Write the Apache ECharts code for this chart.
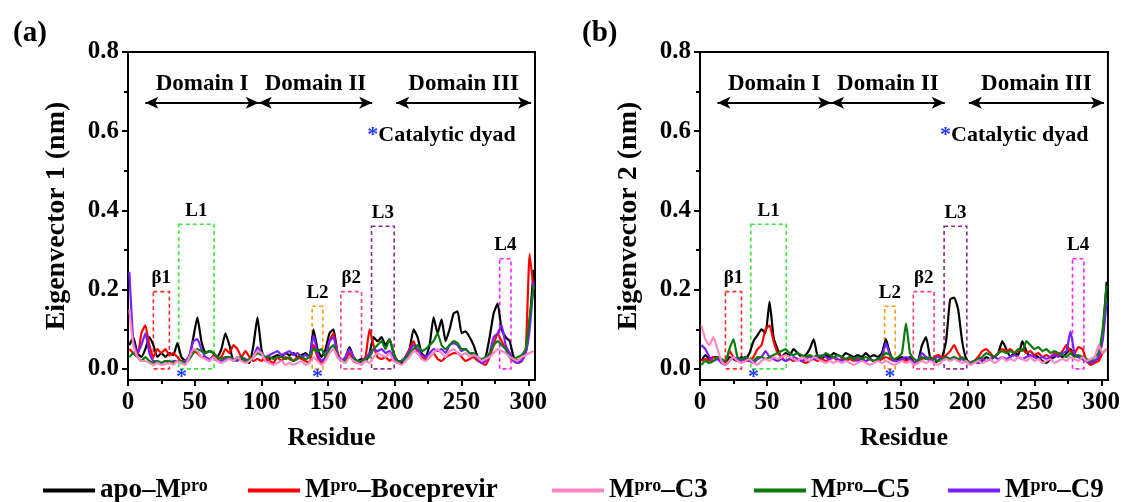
<!DOCTYPE html>
<html>
<head>
<meta charset="utf-8">
<script src="https://cdn.jsdelivr.net/npm/echarts@6/dist/echarts.min.js"></script>
<style>
  html, body { margin: 0; background: #fff; }
  #chart { width: 1123px; height: 502px; }
</style>
</head>
<body>
<div id="chart"></div>
<script>
// residue numbers sampled along the chain
const residues = [1,4,7,10,13,16,19,22,25,28,31,34,37,40,43,46,49,52,55,58,61,64,67,70,73,76,79,82,85,88,91,94,97,100,103,106,109,112,115,118,121,124,127,130,133,136,139,142,145,148,151,154,157,160,163,166,169,172,175,178,181,184,187,190,193,196,199,202,205,208,211,214,217,220,223,226,229,232,235,238,241,244,247,250,253,256,259,262,265,268,271,274,277,280,283,286,289,292,295,298,301,304];

// (a) eigenvector 1
const apoA = [0.06,0.08,0.04,0.03,0.05,0.08,0.06,0.03,0.04,0.03, 0.04,0.035,0.065,0.03,0.02,0.03,0.08,0.13,0.07,0.04, 0.045,0.04,0.03,0.05,0.09,0.06,0.02,0.03,0.025,0.02, 0.015,0.06,0.13,0.05,0.02,0.025,0.03,0.035,0.03,0.04, 0.035,0.04,0.03,0.035,0.04,0.03,0.10,0.05,0.03,0.05, 0.09,0.10,0.04,0.02,0.03,0.055,0.03,0.02,0.025,0.02, 0.04,0.08,0.07,0.08,0.06,0.075,0.04,0.02,0.015,0.03, 0.05,0.10,0.08,0.04,0.03,0.06,0.13,0.09,0.125,0.07, 0.10,0.14,0.145,0.09,0.095,0.08,0.06,0.03,0.015,0.03, 0.08,0.14,0.165,0.10,0.08,0.07,0.03,0.02,0.03,0.04, 0.12,0.25];
const bocA = [0.05,0.04,0.03,0.09,0.11,0.06,0.03,0.05,0.04,0.05, 0.035,0.04,0.03,0.02,0.02,0.03,0.045,0.04,0.03,0.03, 0.02,0.035,0.025,0.03,0.05,0.04,0.06,0.05,0.03,0.045, 0.03,0.02,0.025,0.02,0.03,0.02,0.015,0.03,0.02,0.03, 0.025,0.02,0.03,0.025,0.02,0.015,0.06,0.03,0.015,0.03, 0.07,0.09,0.04,0.02,0.025,0.04,0.02,0.015,0.02,0.03, 0.10,0.06,0.03,0.025,0.03,0.02,0.03,0.015,0.02,0.03, 0.05,0.07,0.04,0.03,0.025,0.03,0.04,0.025,0.02,0.03, 0.035,0.04,0.04,0.03,0.02,0.025,0.03,0.02,0.015,0.01, 0.03,0.06,0.09,0.07,0.05,0.03,0.02,0.015,0.02,0.04, 0.29,0.20];
const c3A = [0.15,0.06,0.03,0.02,0.02,0.015,0.01,0.015,0.01,0.012, 0.015,0.01,0.02,0.015,0.01,0.03,0.05,0.045,0.03,0.025, 0.02,0.03,0.02,0.015,0.02,0.025,0.02,0.03,0.02,0.015, 0.02,0.03,0.045,0.04,0.02,0.015,0.01,0.015,0.02,0.01, 0.015,0.01,0.015,0.02,0.01,0.015,0.03,0.02,0.01,0.02, 0.04,0.05,0.03,0.02,0.015,0.03,0.02,0.015,0.01,0.02, 0.015,0.03,0.04,0.035,0.03,0.04,0.02,0.015,0.01,0.02, 0.03,0.045,0.04,0.025,0.02,0.03,0.04,0.05,0.04,0.03, 0.045,0.05,0.04,0.035,0.04,0.03,0.035,0.03,0.02,0.025, 0.03,0.04,0.05,0.045,0.04,0.03,0.025,0.02,0.03,0.035, 0.04,0.045];
const c5A = [0.03,0.04,0.03,0.02,0.03,0.02,0.015,0.02,0.015,0.02, 0.02,0.015,0.02,0.02,0.015,0.025,0.04,0.05,0.045,0.04, 0.045,0.04,0.03,0.025,0.03,0.03,0.02,0.025,0.03,0.02, 0.025,0.03,0.04,0.035,0.03,0.03,0.025,0.03,0.03,0.025, 0.03,0.02,0.025,0.03,0.025,0.03,0.05,0.045,0.05,0.03, 0.05,0.06,0.03,0.02,0.02,0.03,0.025,0.02,0.02,0.025, 0.03,0.05,0.06,0.07,0.05,0.075,0.04,0.02,0.02,0.025, 0.04,0.05,0.06,0.045,0.05,0.06,0.07,0.09,0.06,0.05, 0.06,0.07,0.065,0.05,0.05,0.04,0.04,0.03,0.025,0.03, 0.04,0.06,0.07,0.06,0.05,0.03,0.025,0.03,0.035,0.05, 0.13,0.21];
const c9A = [0.245,0.07,0.04,0.06,0.09,0.04,0.02,0.02,0.015,0.02, 0.015,0.02,0.02,0.015,0.02,0.035,0.07,0.075,0.05,0.03, 0.025,0.03,0.02,0.02,0.025,0.03,0.025,0.02,0.03,0.025, 0.02,0.03,0.055,0.04,0.03,0.035,0.04,0.045,0.035,0.04, 0.045,0.035,0.04,0.03,0.035,0.03,0.085,0.04,0.02,0.03, 0.07,0.08,0.035,0.02,0.03,0.05,0.03,0.015,0.02,0.025, 0.04,0.05,0.045,0.05,0.04,0.045,0.03,0.015,0.02,0.03, 0.045,0.06,0.05,0.035,0.03,0.04,0.05,0.045,0.05,0.04, 0.06,0.065,0.06,0.045,0.05,0.04,0.035,0.025,0.015,0.02, 0.04,0.08,0.09,0.11,0.06,0.04,0.02,0.015,0.02,0.04, 0.10,0.22];

// (b) eigenvector 2
const apoB = [0.02,0.035,0.025,0.03,0.03,0.02,0.015,0.03,0.025,0.02, 0.03,0.025,0.04,0.07,0.085,0.10,0.09,0.17,0.08,0.05, 0.03,0.04,0.035,0.05,0.04,0.03,0.035,0.05,0.075,0.03, 0.025,0.035,0.03,0.04,0.035,0.03,0.04,0.035,0.03,0.035, 0.03,0.04,0.03,0.035,0.03,0.04,0.075,0.04,0.02,0.025, 0.03,0.025,0.03,0.015,0.02,0.06,0.08,0.03,0.015,0.02, 0.03,0.07,0.175,0.18,0.15,0.07,0.025,0.015,0.02,0.015, 0.02,0.03,0.025,0.03,0.04,0.07,0.05,0.03,0.04,0.035, 0.07,0.045,0.03,0.035,0.03,0.02,0.015,0.025,0.03,0.035, 0.03,0.04,0.05,0.035,0.03,0.025,0.02,0.015,0.02,0.03, 0.08,0.22];
const bocB = [0.02,0.025,0.02,0.03,0.025,0.02,0.015,0.045,0.03,0.02, 0.025,0.02,0.02,0.03,0.05,0.06,0.10,0.11,0.07,0.04, 0.03,0.02,0.025,0.02,0.025,0.02,0.015,0.02,0.025,0.02, 0.025,0.02,0.025,0.03,0.02,0.025,0.02,0.025,0.02,0.025, 0.02,0.02,0.025,0.02,0.02,0.025,0.03,0.025,0.02,0.02, 0.025,0.02,0.025,0.015,0.02,0.025,0.03,0.02,0.03,0.035, 0.03,0.035,0.045,0.06,0.04,0.025,0.02,0.015,0.02,0.03, 0.045,0.05,0.04,0.03,0.04,0.05,0.045,0.05,0.04,0.045, 0.05,0.04,0.045,0.035,0.04,0.03,0.035,0.03,0.04,0.035, 0.045,0.06,0.045,0.04,0.055,0.05,0.02,0.01,0.015,0.02, 0.04,0.05];
const c3B = [0.11,0.075,0.06,0.08,0.05,0.02,0.01,0.02,0.03,0.02, 0.015,0.02,0.025,0.015,0.01,0.02,0.025,0.02,0.03,0.025, 0.03,0.035,0.03,0.025,0.02,0.03,0.025,0.02,0.03,0.025, 0.02,0.015,0.02,0.015,0.02,0.015,0.02,0.015,0.01,0.015, 0.02,0.015,0.01,0.015,0.02,0.015,0.02,0.015,0.01,0.015, 0.02,0.015,0.02,0.01,0.015,0.02,0.015,0.02,0.015,0.01, 0.02,0.025,0.02,0.025,0.02,0.015,0.02,0.01,0.015,0.02, 0.015,0.02,0.025,0.015,0.02,0.03,0.02,0.025,0.02,0.03, 0.025,0.02,0.03,0.02,0.025,0.015,0.02,0.025,0.015,0.02, 0.025,0.02,0.03,0.025,0.02,0.03,0.02,0.025,0.03,0.06, 0.04,0.05];
const c5B = [0.01,0.02,0.015,0.02,0.03,0.025,0.02,0.05,0.075,0.03, 0.025,0.03,0.025,0.02,0.03,0.03,0.025,0.03,0.035,0.04, 0.045,0.05,0.04,0.035,0.04,0.035,0.03,0.035,0.03,0.035, 0.03,0.04,0.035,0.03,0.035,0.03,0.025,0.03,0.025,0.03, 0.025,0.03,0.025,0.02,0.025,0.03,0.04,0.035,0.025,0.03, 0.04,0.115,0.04,0.025,0.02,0.03,0.025,0.03,0.025,0.02, 0.025,0.03,0.025,0.03,0.025,0.03,0.02,0.015,0.02,0.025, 0.03,0.04,0.035,0.03,0.04,0.045,0.04,0.045,0.04,0.05, 0.045,0.07,0.06,0.05,0.055,0.045,0.05,0.04,0.045,0.04, 0.035,0.03,0.04,0.03,0.035,0.03,0.025,0.02,0.03,0.04, 0.10,0.21];
const c9B = [0.06,0.05,0.03,0.02,0.025,0.015,0.01,0.02,0.03,0.025, 0.02,0.03,0.02,0.015,0.025,0.03,0.045,0.03,0.025,0.02, 0.025,0.02,0.025,0.03,0.025,0.02,0.025,0.03,0.025,0.03, 0.035,0.03,0.025,0.03,0.025,0.02,0.025,0.03,0.025,0.02, 0.025,0.02,0.025,0.02,0.025,0.03,0.065,0.035,0.02,0.02, 0.025,0.03,0.025,0.015,0.02,0.04,0.03,0.02,0.025,0.03, 0.025,0.03,0.025,0.03,0.02,0.025,0.02,0.015,0.02,0.015, 0.025,0.02,0.025,0.03,0.025,0.03,0.025,0.03,0.035,0.03, 0.025,0.03,0.035,0.03,0.025,0.03,0.025,0.03,0.035,0.03, 0.04,0.045,0.095,0.04,0.03,0.025,0.02,0.015,0.02,0.03, 0.07,0.17];

const xTicks = [0, 50, 100, 150, 200, 250, 300];
const xMinorTicks = [25, 75, 125, 175, 225, 275];
const yTicks = [0, 0.2, 0.4, 0.6, 0.8];
const yMinorTicks = [0.1, 0.3, 0.5, 0.7];

const names = ['apo–Mpro', 'Mpro–Boceprevir', 'Mpro–C3', 'Mpro–C5', 'Mpro–C9'];
const legendText = ['{t|apo–M}{s|pro}', '{t|M}{s|pro}{t|–Boceprevir}', '{t|M}{s|pro}{t|–C3}', '{t|M}{s|pro}{t|–C5}', '{t|M}{s|pro}{t|–C9}'];
const colors = ['#000000', '#ff0000', '#ff88c4', '#0a7a0a', '#7a20ff'];
const drawOrder = [0, 1, 4, 3, 2];

// structural annotations
const boxes = [
  { name: 'β1', x0: 19, x1: 31, top: 0.195, color: '#ff2a2a' },
  { name: 'L1', x0: 38, x1: 64.5, top: 0.365, color: '#3de83d' },
  { name: 'L2', x0: 138, x1: 146, top: 0.158, color: '#ff9a1a' },
  { name: 'β2', x0: 159.5, x1: 175, top: 0.195, color: '#ff3d8a' },
  { name: 'L3', x0: 182.5, x1: 199.5, top: 0.36, color: '#8e2a8e' },
  { name: 'L4', x0: 278.5, x1: 287, top: 0.278, color: '#ff22ff' }
];
const domains = [
  { name: 'Domain I', x0: 13, x1: 98 },
  { name: 'Domain II', x0: 98, x1: 183 },
  { name: 'Domain III', x0: 201, x1: 302 }
];
const catalytic = [40, 142];

const FONT = '"Liberation Serif", "Times New Roman", serif';
const txt = (size, extra) => Object.assign({ fontFamily: FONT, fontWeight: 'bold', fontSize: size, color: '#000' }, extra || {});

const chart = echarts.init(document.getElementById('chart'));

const grids = [
  { left: 128, top: 52, width: 407, height: 328 },
  { left: 700, top: 52, width: 408, height: 328 }
];
const yNames = ['Eigenvector 1 (nm)', 'Eigenvector 2 (nm)'];
const panelData = [[apoA, bocA, c3A, c5A, c9A], [apoB, bocB, c3B, c5B, c9B]];

const xAxis = [], yAxis = [], series = [];
grids.forEach((g, gi) => {
  xAxis.push({
    type: 'value', gridIndex: gi, min: 0, max: 305,
    axisLine: { onZero: false, lineStyle: { color: '#000', width: 2 } },
    axisTick: { customValues: xTicks, length: 6, lineStyle: { color: '#000', width: 2 } },
    axisLabel: { customValues: xTicks, margin: 10, ...txt(25) },
    splitLine: { show: false },
    name: 'Residue', nameLocation: 'middle', nameGap: 45, nameTextStyle: txt(26)
  });
  xAxis.push({
    type: 'value', gridIndex: gi, min: 0, max: 305, position: 'bottom',
    axisLine: { show: false, onZero: false },
    axisTick: { customValues: xMinorTicks, length: 4, lineStyle: { color: '#000', width: 2 } },
    axisLabel: { show: false }, splitLine: { show: false }
  });
  yAxis.push({
    type: 'value', gridIndex: gi, min: -0.028, max: 0.8,
    axisLine: { show: true, onZero: false, lineStyle: { color: '#000', width: 2 } },
    axisTick: { customValues: yTicks, length: 6, lineStyle: { color: '#000', width: 2 } },
    axisLabel: { customValues: yTicks, margin: 9, formatter: v => v.toFixed(1), ...txt(25) },
    splitLine: { show: false },
    name: yNames[gi], nameLocation: 'middle', nameGap: 57, nameTextStyle: txt(28)
  });
  yAxis.push({
    type: 'value', gridIndex: gi, min: -0.028, max: 0.8, position: 'left',
    axisLine: { show: false, onZero: false },
    axisTick: { customValues: yMinorTicks, length: 4, lineStyle: { color: '#000', width: 2 } },
    axisLabel: { show: false }, splitLine: { show: false }
  });

  drawOrder.forEach(k => {
    series.push({
      type: 'line', name: names[k], xAxisIndex: gi * 2, yAxisIndex: gi * 2,
      data: residues.map((r, i) => [r, panelData[gi][k][i]]),
      symbol: 'none', smooth: 0.15,
      lineStyle: { color: colors[k], width: 2.2 },
      itemStyle: { color: colors[k] },
      silent: true
    });
  });

  series.push({
    type: 'line', name: 'annot' + gi, xAxisIndex: gi * 2, yAxisIndex: gi * 2,
    data: [], silent: true,
    markArea: {
      silent: true,
      label: { show: true, position: 'top', distance: 3, ...txt(19) },
      data: boxes.map(b => [
        { name: b.name, coord: [b.x0, b.top],
          itemStyle: { color: 'rgba(0,0,0,0)', borderColor: b.color, borderWidth: 1.6, borderType: [4, 3] } },
        { coord: [b.x1, 0] }
      ])
    },
    markLine: {
      silent: true, symbol: ['arrow', 'arrow'], symbolSize: [9, 13],
      lineStyle: { color: '#000', width: 2, type: 'solid' },
      label: { show: true, position: 'insideMiddleTop', distance: 7, formatter: '{b}', ...txt(23) },
      data: domains.map(d => [{ name: d.name, coord: [d.x0, 0.672] }, { coord: [d.x1, 0.672] }])
    },
    markPoint: {
      silent: true, symbol: 'circle', symbolSize: 1, itemStyle: { color: 'rgba(0,0,0,0)' },
      data: [
        { coord: [235, 0.59], label: { show: true, position: 'inside', formatter: '{s|*}{t|Catalytic dyad}',
          rich: { s: txt(22, { color: '#2038ff' }), t: txt(22) } } }
      ].concat(catalytic.map(c => ({
        coord: [c, -0.02], label: { show: true, position: 'inside', formatter: '*', ...txt(22, { color: '#2038ff' }) }
      })))
    }
  });
});

const legendLeft = [38, 243, 547, 749, 943];
const legend = names.map((n, k) => ({
  data: [n], left: legendLeft[k], top: 472, icon: 'rect', itemWidth: 52, itemHeight: 4,
  itemGap: 0, selectedMode: false,
  formatter: () => legendText[k],
  textStyle: {
    rich: {
      t: txt(27),
      s: txt(18, { verticalAlign: 'top' })
    }
  }
}));

chart.setOption({
  backgroundColor: '#fff',
  animation: false,
  title: [
    { text: '(a)', left: 8, top: 14, textStyle: txt(29) },
    { text: '(b)', left: 577, top: 14, textStyle: txt(29) }
  ],
  legend: legend,
  grid: grids.map(g => Object.assign({ show: true, borderColor: '#000', borderWidth: 2, backgroundColor: 'transparent' }, g)),
  xAxis: xAxis,
  yAxis: yAxis,
  series: series
});
</script>
</body>
</html>
